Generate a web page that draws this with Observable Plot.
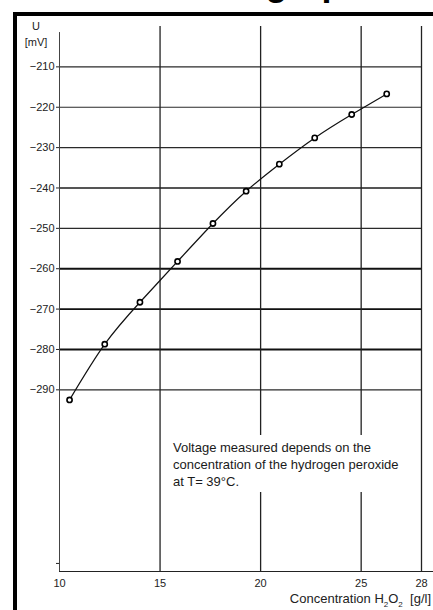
<!DOCTYPE html>
<html>
<head>
<meta charset="utf-8">
<script src="https://cdn.jsdelivr.net/npm/d3@7"></script>
<script src="https://cdn.jsdelivr.net/npm/@observablehq/plot@0.6"></script>
<style>
  html, body { margin: 0; padding: 0; background: #fff; }
  body { width: 433px; height: 610px; position: relative; overflow: hidden;
         font-family: "Liberation Sans", Arial, Helvetica, sans-serif; color: #1a1a1a; }
  #chart { position: absolute; left: 0; top: 0; }
  #frame { position: absolute; left: 13px; top: 12px; right: -10px; bottom: -10px;
           border-left: 4px solid #000; border-top: 4px solid #000; pointer-events: none; }
  #title { position: absolute; left: 0; width: 433px; top: -35px; text-align: center;
           font-size: 36px; line-height: 36px; font-weight: bold; color: #000; white-space: nowrap; }
  #ulabel { position: absolute; left: 24px; top: 18px; width: 24px; text-align: center;
            font-size: 11px; line-height: 16px; color: #222; }
  #note { position: absolute; left: 166px; top: 435px; width: 236px; background: #fff;
          padding: 4px 0 2px 7px; font-size: 13px; line-height: 17px; color: #1a1a1a; }
  #xlabel { position: absolute; right: 2px; top: 591px; font-size: 13px; line-height: 16px; color: #222; white-space: nowrap; }
  #xlabel sub { font-size: 8px; vertical-align: -4px; line-height: 0; }
</style>
</head>
<body>
<div id="title">Calibration graph</div>
<div id="chart"></div>
<div id="frame"></div>
<div id="ulabel">U<br>[mV]</div>
<div id="note">Voltage measured depends on the<br>concentration of the hydrogen peroxide<br>at T= 39°C.</div>
<div id="xlabel">Concentration H<sub>2</sub>O<sub>2</sub>&nbsp; [g/l]</div>
<script>
// ---- data ----
const concentration = [10.5, 12.25, 14.0, 15.87, 17.63, 19.28, 20.93, 22.69, 24.53, 26.27];
const voltage = [-292.5, -278.7, -268.3, -258.2, -248.8, -240.8, -234.1, -227.6, -221.8, -216.7];
const xTicks = [10, 15, 20, 25, 28];
const xGrid = [15, 20, 25, 28];
const yTicks = [-210, -220, -230, -240, -250, -260, -270, -280, -290];
const yBreakTick = -333;
const xDomain = [10, 28];
const yDomain = [-335, -200];
const yAxisTop = -201.5;
const xAxisEnd = 28.6;

const table = concentration.map((c, i) => ({c, u: voltage[i]}));

// style groups for the horizontal grid
const heavy = new Set([-260, -270, -280]);
const mid = new Set([-240]);

const chart = Plot.plot({
  width: 433,
  height: 610,
  marginTop: 26,
  marginBottom: 39,
  marginLeft: 59,
  marginRight: 12,
  style: {background: "transparent", fontFamily: "'Liberation Sans', Arial, sans-serif", fontSize: "11px", color: "#222"},
  x: {domain: xDomain},
  y: {domain: yDomain},
  marks: [
    Plot.ruleY(yTicks.filter(d => !heavy.has(d) && !mid.has(d)), {stroke: "#2a2a2a", strokeWidth: 1.2}),
    Plot.ruleY(yTicks.filter(d => mid.has(d)), {stroke: "#555", strokeWidth: 1.8}),
    Plot.ruleY(yTicks.filter(d => heavy.has(d)), {stroke: "#111", strokeWidth: 1.9}),
    Plot.ruleX(xGrid, {stroke: "#222", strokeWidth: 1.3}),
    Plot.ruleX([xDomain[0]], {y1: yAxisTop, y2: yDomain[0], stroke: "#444", strokeWidth: 1}),
    Plot.ruleY([yDomain[0]], {x1: xDomain[0], x2: xAxisEnd, stroke: "#222", strokeWidth: 1.2}),
    Plot.axisY([...yTicks, yBreakTick], {
      tickSize: 3, tickPadding: 2, fontSize: 11, label: null,
      tickFormat: d => d === yBreakTick ? "" : "\u2212" + Math.abs(d)
    }),
    Plot.axisX(xTicks, {tickSize: 0, tickPadding: 8, fontSize: 11, label: null}),
    Plot.line(table, {x: "c", y: "u", curve: "natural", stroke: "#111", strokeWidth: 1.2}),
    Plot.dot(table, {x: "c", y: "u", r: 2.6, stroke: "#000", strokeWidth: 1.6, fill: "#fff"})
  ]
});
document.getElementById("chart").append(chart);
</script>
</body>
</html>
